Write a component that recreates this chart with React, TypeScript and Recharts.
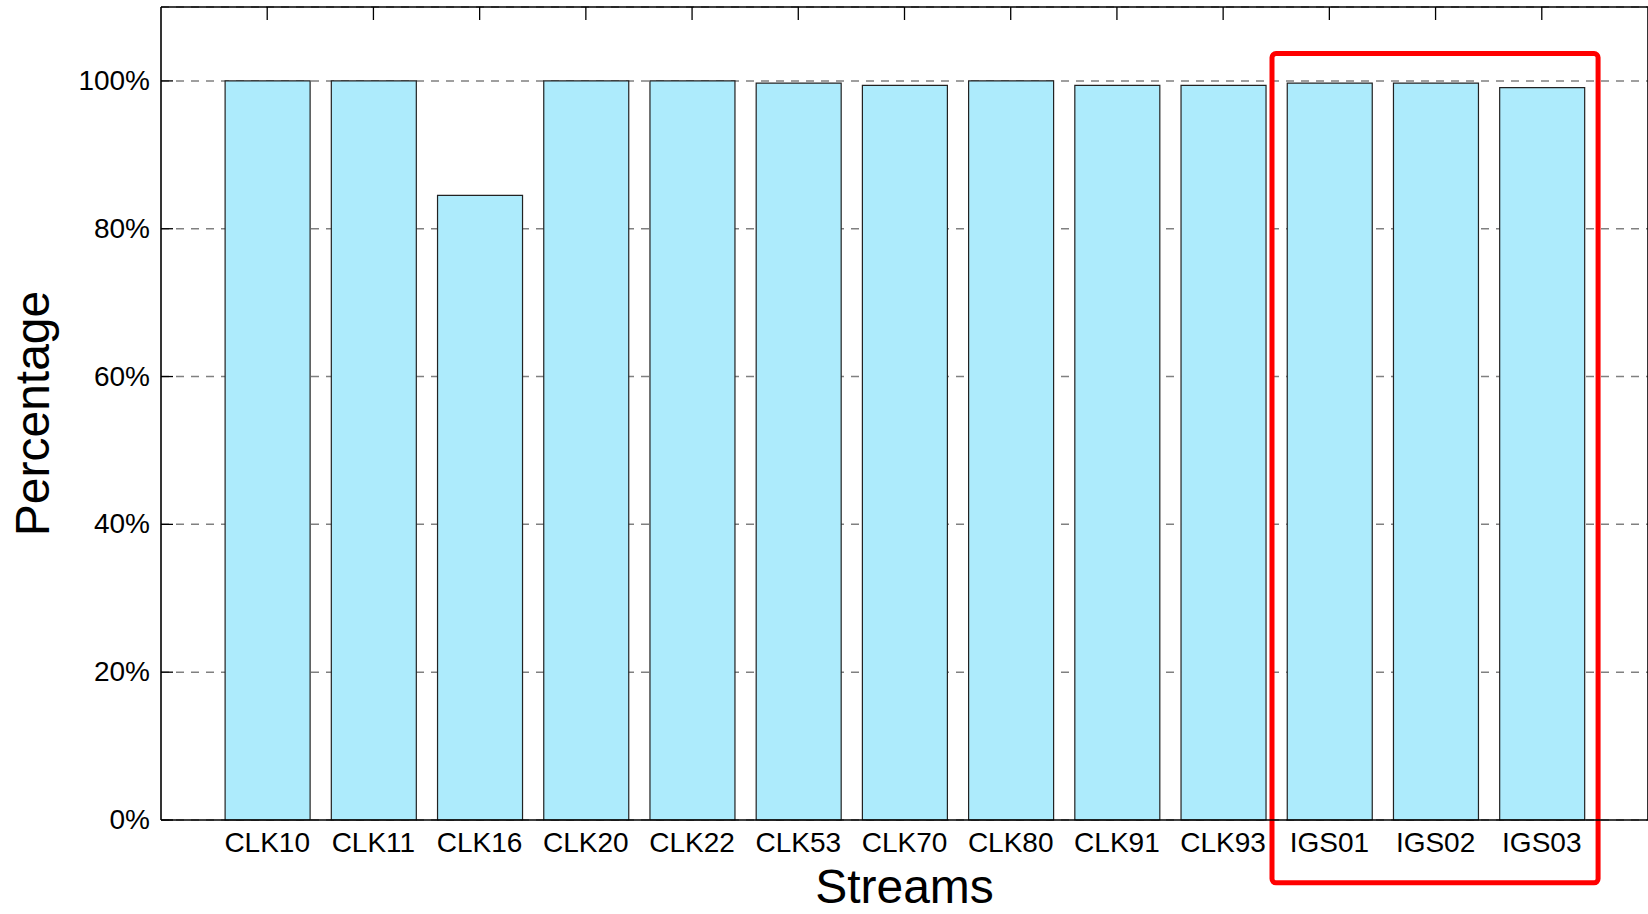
import React from 'react';
import { BarChart, Bar, XAxis, YAxis, CartesianGrid, ReferenceArea } from 'recharts';

const categories = ['CLK10', 'CLK11', 'CLK16', 'CLK20', 'CLK22', 'CLK53', 'CLK70', 'CLK80', 'CLK91', 'CLK93', 'IGS01', 'IGS02', 'IGS03'];
const percentages = [100, 100, 84.5, 100, 100, 99.7, 99.4, 100, 99.4, 99.4, 99.7, 99.7, 99.1];
const positions = [1, 2, 3, 4, 5, 6, 7, 8, 9, 10, 11, 12, 13];
const yTicks = [0, 20, 40, 60, 80, 100];
const xDomain = [0, 14];
const yDomain = [0, 110];
// highlighted group (IGS streams) frame, in axis units
const highlightX = [10.46, 13.53];
const highlightY = [-8.5, 103.7];

const data = categories.map((name, i) => ({ pos: positions[i], name, value: percentages[i] }));

const FONT = '"Liberation Sans", Arial, Helvetica, sans-serif';

const LeftTick = (props: any) => {
  const { x, y, payload } = props;
  return (
    <g>
      <line x1={x} x2={x + 12} y1={y} y2={y} stroke="#000" strokeWidth={1.3} />
      <text x={x - 11} y={y + 9} textAnchor="end" fontSize={28} fontFamily={FONT} fill="#000">
        {payload.value}%
      </text>
    </g>
  );
};

const RightTick = (props: any) => {
  const { x, y } = props;
  return <line x1={x - 12} x2={x} y1={y} y2={y} stroke="#000" strokeWidth={1.3} />;
};

const TopTick = (props: any) => {
  const { x, y } = props;
  return <line x1={x} x2={x} y1={y} y2={y + 13} stroke="#000" strokeWidth={1.3} />;
};

const BottomTick = (props: any) => {
  const { x, y, payload } = props;
  const label = categories[positions.indexOf(payload.value)] ?? '';
  return (
    <text x={x} y={y + 32} textAnchor="middle" fontSize={28} fontFamily={FONT} fill="#000">
      {label}
    </text>
  );
};

const StreamsLabel = (props: any) => {
  const vb = props.viewBox || { x: 161, y: 820, width: 1487, height: 94 };
  return (
    <text x={vb.x + vb.width / 2} y={vb.y + 83} textAnchor="middle" fontSize={48} fontFamily={FONT} fill="#000">
      Streams
    </text>
  );
};

const PercentLabel = (props: any) => {
  const vb = props.viewBox || { x: 0, y: 7, width: 161, height: 813 };
  const cx = 49;
  const cy = vb.y + vb.height / 2;
  return (
    <text x={cx} y={cy} transform={`rotate(-90, ${cx}, ${cy})`} textAnchor="middle" fontSize={48} fontFamily={FONT} fill="#000">
      Percentage
    </text>
  );
};

export default function App() {
  return (
    <div style={{ position: 'absolute', left: 0, top: 0, width: 1648, height: 914, overflow: 'hidden', background: '#fff' }}>
      <BarChart width={1652} height={914} data={data} margin={{ top: 0, right: 3, bottom: 0, left: 0 }}>
        <CartesianGrid xAxisId="bottom" yAxisId="left" vertical={false} stroke="#808080" strokeWidth={1.5} strokeDasharray="8 7" />
        <XAxis
          xAxisId="bottom"
          dataKey="pos"
          type="number"
          domain={xDomain}
          ticks={positions}
          interval={0}
          height={94}
          tickLine={false}
          tickSize={0}
          tickMargin={0}
          tick={<BottomTick />}
          axisLine={{ stroke: '#000', strokeWidth: 1.6 }}
          label={<StreamsLabel />}
        />
        <XAxis
          xAxisId="top"
          orientation="top"
          dataKey="pos"
          type="number"
          domain={xDomain}
          ticks={positions}
          interval={0}
          height={7}
          tickLine={false}
          tickSize={0}
          tickMargin={0}
          tick={<TopTick />}
          axisLine={{ stroke: '#000', strokeWidth: 1.6 }}
        />
        <YAxis
          yAxisId="left"
          domain={yDomain}
          ticks={yTicks}
          interval={0}
          width={161}
          tickLine={false}
          tickSize={0}
          tickMargin={0}
          tick={<LeftTick />}
          axisLine={{ stroke: '#000', strokeWidth: 1.6 }}
          label={<PercentLabel />}
        />
        <YAxis
          yAxisId="right"
          orientation="right"
          domain={yDomain}
          ticks={yTicks}
          interval={0}
          width={1}
          tickLine={false}
          tickSize={0}
          tickMargin={0}
          tick={<RightTick />}
          axisLine={{ stroke: '#000', strokeWidth: 1.6 }}
        />
        <Bar
          xAxisId="bottom"
          yAxisId="left"
          dataKey="value"
          fill="#ADEBFC"
          stroke="#222"
          strokeWidth={1.2}
          barSize={85}
          isAnimationActive={false}
        />
        <ReferenceArea
          xAxisId="bottom"
          yAxisId="left"
          x1={highlightX[0]}
          x2={highlightX[1]}
          y1={highlightY[0]}
          y2={highlightY[1]}
          ifOverflow="visible"
          fill="none"
          fillOpacity={0}
          stroke="#ff0000"
          strokeWidth={5}
          strokeOpacity={1}
          radius={4}
        />
      </BarChart>
    </div>
  );
}
